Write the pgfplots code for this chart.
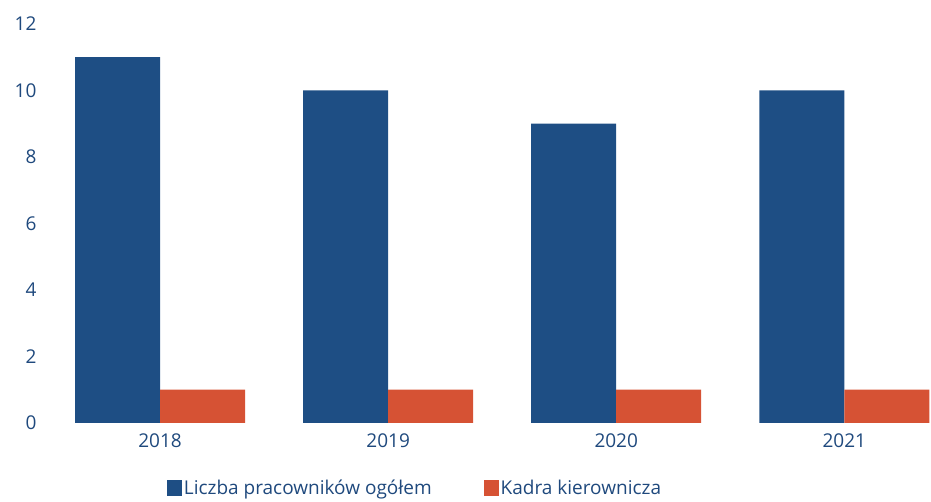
\documentclass[border=0pt]{standalone}
\usepackage{pgfplots}
\pgfplotsset{compat=1.18}
\usepackage{fontspec}
\setmainfont{Open Sans}
\definecolor{txtblue}{RGB}{31,73,125}
\definecolor{barblue}{RGB}{30,78,132}
\definecolor{barred}{RGB}{214,82,52}
\begin{document}
\begin{tikzpicture}
\begin{axis}[
  scale only axis=true,
  width=885pt, height=399pt,
  xmin=-0.5, xmax=3.38,
  ymin=0, ymax=12,
  ytick={0,2,...,12},
  xtick={0,1,2,3},
  xticklabels={2018,2019,2020,2021},
  axis line style={draw=none},
  major tick style={draw=none},
  ybar=0pt,
  bar width=85pt,
  font=\fontsize{19pt}{22pt}\selectfont,
  tick label style={text=txtblue},
  yticklabel style={xshift=-6pt},
  xticklabel style={yshift=-3pt},
  /pgf/number format/assume math mode=true,
  legend style={draw=none, fill=none, at={(0.133,-0.163)}, anchor=west,
    legend columns=2, text=txtblue, font=\fontsize{19pt}{22pt}\selectfont,
    /tikz/every even column/.append style={column sep=50pt}},
  legend image code/.code={\fill[#1] (0pt,-8pt) rectangle (15pt,8pt);},
]
\addplot[fill=barblue, draw=none] coordinates {(0,11) (1,10) (2,9) (3,10)};
\addplot[fill=barred, draw=none] coordinates {(0,1) (1,1) (2,1) (3,1)};
\legend{Liczba pracowników ogółem, Kadra kierownicza}
\end{axis}
\path (current axis.south west) ++(-46pt,-79pt) rectangle ++(931pt,502pt);
\end{tikzpicture}
\end{document}
